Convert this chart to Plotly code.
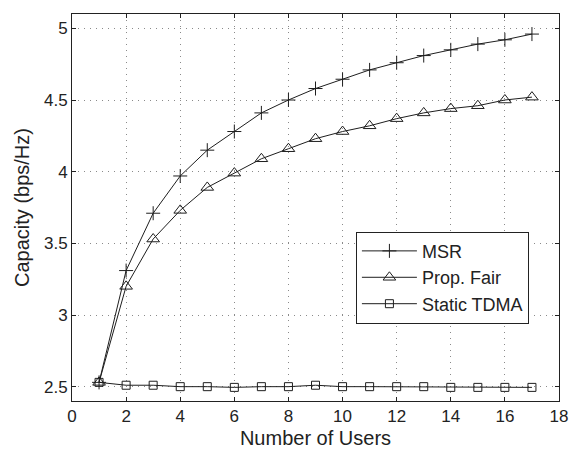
import plotly.graph_objects as go

users = list(range(1, 18))
msr = [2.53, 3.31, 3.71, 3.97, 4.15, 4.28, 4.41, 4.50, 4.58, 4.645, 4.71, 4.76, 4.81, 4.85, 4.89, 4.92, 4.96]
prop_fair = [2.53, 3.20, 3.53, 3.73, 3.89, 3.99, 4.09, 4.16, 4.23, 4.28, 4.32, 4.37, 4.41, 4.44, 4.46, 4.50, 4.52]
static_tdma = [2.53, 2.51, 2.51, 2.50, 2.50, 2.495, 2.50, 2.50, 2.51, 2.50, 2.50, 2.50, 2.50, 2.495, 2.495, 2.495, 2.495]

x_ticks = list(range(0, 19, 2))
y_ticks = [2.5, 3, 3.5, 4, 4.5, 5]
y_tick_text = ["2.5", "3", "3.5", "4", "4.5", "5"]

line_color = "#1e1e1e"
font_family = "Liberation Sans, Arial, sans-serif"

fig = go.Figure()
series = [
    ("MSR", msr, "cross-thin-open", 10),
    ("Prop. Fair", prop_fair, "triangle-up-open", 11),
    ("Static TDMA", static_tdma, "square-open", 8),
]
for name, vals, symbol, size in series:
    fig.add_trace(go.Scatter(
        x=users, y=vals, name=name, mode="lines+markers",
        line=dict(color=line_color, width=1),
        marker=dict(symbol=symbol, size=size, color=line_color,
                    line=dict(color=line_color, width=1)),
    ))

axis_common = dict(
    showline=True, linecolor="#222", linewidth=1, mirror="ticks",
    ticks="inside", ticklen=4, tickcolor="#222",
    showgrid=True, gridcolor="#8a8a8a", griddash="1px,5px", gridwidth=1,
    zeroline=False, automargin=False,
    tickfont=dict(family=font_family, size=17, color="#222"),
)

fig.update_xaxes(
    range=[0, 18], tickvals=x_ticks,
    title=dict(text="Number of Users", font=dict(family=font_family, size=20, color="#222"), standoff=6),
    **axis_common,
)
fig.update_yaxes(
    range=[2.4, 5.1], tickvals=y_ticks, ticktext=y_tick_text,
    title=dict(text="Capacity (bps/Hz)", font=dict(family=font_family, size=20, color="#222"), standoff=8),
    **axis_common,
)

fig.update_layout(
    width=570, height=449,
    margin=dict(l=72, r=11, t=14, b=48),
    paper_bgcolor="white", plot_bgcolor="white",
    font=dict(family=font_family, color="#222"),
    legend=dict(
        x=0.583, y=0.4375, xanchor="left", yanchor="top",
        bgcolor="white", bordercolor="#222", borderwidth=1,
        font=dict(family=font_family, size=18, color="#222"),
        itemwidth=55, tracegroupgap=0,
    ),
    showlegend=True,
)

fig.write_html("out.html")
